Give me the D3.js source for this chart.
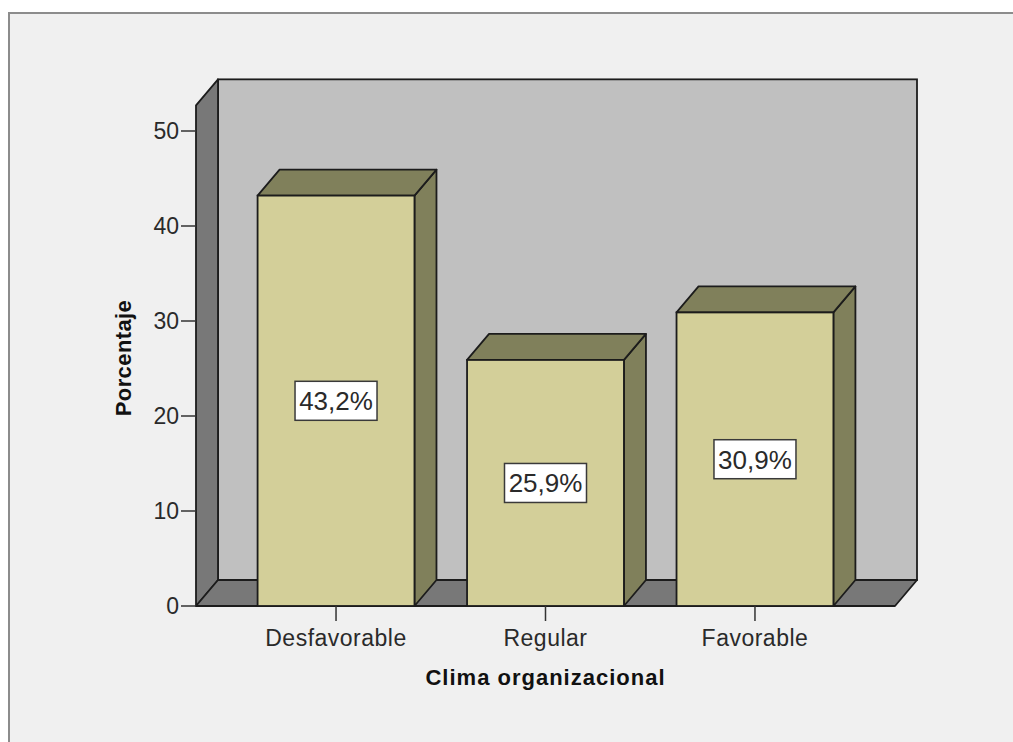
<!DOCTYPE html>
<html>
<head>
<meta charset="utf-8">
<script src="https://cdn.jsdelivr.net/npm/d3@7"></script>
<style>
  html, body { margin: 0; padding: 0; background: #ffffff; }
  svg { display: block; }
</style>
</head>
<body>
<script>
// Clima organizacional – distribution (percent) as 3D bars
const categories = ["Desfavorable", "Regular", "Favorable"];
const percentages = [43.2, 25.9, 30.9];
const valueLabels = ["43,2%", "25,9%", "30,9%"];
const yTicks = [0, 10, 20, 30, 40, 50];
const yAxisTitle = "Porcentaje";
const xAxisTitle = "Clima organizacional";

const W = 1013, H = 742;
const FONT = "Arial, 'Liberation Sans', sans-serif";

// plot geometry
const x0 = 196, x1 = 895;      // front edge of the floor
const yBase = 606;             // front baseline
const pxPerUnit = 9.5;
const yTop = 52.7;             // value at the top of the walls
const depthX = 22, depthY = 26; // oblique depth offset

const svg = d3.select("body").append("svg")
  .attr("width", W).attr("height", H);

// outer panel
svg.append("rect").attr("x", 9).attr("y", 13).attr("width", W).attr("height", H)
  .attr("fill", "#f0f0f0");
svg.append("path").attr("d", `M9,${H} L9,13 L${W},13`)
  .attr("fill", "none").attr("stroke", "#8c8c8c").attr("stroke-width", 2);

const y = d3.scaleLinear().domain([0, yTop]).range([yBase, yBase - yTop * pxPerUnit]);
const x = d3.scaleBand().domain(categories).range([x0, x1])
  .paddingInner(0.251).paddingOuter(0.294);

const stroke = "#1c1c1c", sw = 1.8;
const yT = y(yTop);

// back wall
svg.append("rect")
  .attr("x", x0 + depthX).attr("y", yT - depthY)
  .attr("width", x1 - x0).attr("height", yBase - yT)
  .attr("fill", "#c0c0c0").attr("stroke", stroke).attr("stroke-width", sw);

// left wall
svg.append("path")
  .attr("d", `M${x0},${yBase} L${x0},${yT} L${x0 + depthX},${yT - depthY} L${x0 + depthX},${yBase - depthY} Z`)
  .attr("fill", "#787878").attr("stroke", stroke).attr("stroke-width", sw).attr("stroke-linejoin", "round");

// floor
svg.append("path")
  .attr("d", `M${x0},${yBase} L${x1},${yBase} L${x1 + depthX},${yBase - depthY} L${x0 + depthX},${yBase - depthY} Z`)
  .attr("fill", "#787878").attr("stroke", stroke).attr("stroke-width", sw).attr("stroke-linejoin", "round");

// y axis ticks and labels
const yAxis = svg.append("g");
yAxis.selectAll("line").data(yTicks).join("line")
  .attr("x1", x0 - 15).attr("x2", x0)
  .attr("y1", d => y(d)).attr("y2", d => y(d))
  .attr("stroke", "#333").attr("stroke-width", 1.5);
yAxis.selectAll("text").data(yTicks).join("text")
  .attr("x", x0 - 17).attr("y", d => y(d))
  .attr("dy", "0.36em")
  .attr("text-anchor", "end")
  .attr("font-family", FONT).attr("font-size", 23)
  .attr("fill", "#2a2a2a")
  .text(d => d);

// bars
const bars = svg.append("g").selectAll("g").data(categories).join("g");
const bw = x.bandwidth();
bars.each(function (c, i) {
  const g = d3.select(this);
  const bx = x(c), top = y(percentages[i]);
  // right side face
  g.append("path")
    .attr("d", `M${bx + bw},${yBase} L${bx + bw},${top} L${bx + bw + depthX},${top - depthY} L${bx + bw + depthX},${yBase - depthY} Z`)
    .attr("fill", "#80805b").attr("stroke", stroke).attr("stroke-width", sw).attr("stroke-linejoin", "round");
  // top face
  g.append("path")
    .attr("d", `M${bx},${top} L${bx + depthX},${top - depthY} L${bx + bw + depthX},${top - depthY} L${bx + bw},${top} Z`)
    .attr("fill", "#80805b").attr("stroke", stroke).attr("stroke-width", sw).attr("stroke-linejoin", "round");
  // front face
  g.append("rect")
    .attr("x", bx).attr("y", top).attr("width", bw).attr("height", yBase - top)
    .attr("fill", "#d3cf99").attr("stroke", stroke).attr("stroke-width", sw);
});

// value labels (boxed, centred on each bar)
bars.each(function (c, i) {
  const g = d3.select(this);
  const cx = x(c) + bw / 2;
  const cy = (y(0) + y(percentages[i])) / 2;
  g.append("rect")
    .attr("x", cx - 41).attr("y", cy - 19.5).attr("width", 82).attr("height", 39)
    .attr("fill", "#ffffff").attr("stroke", "#3a3a3a").attr("stroke-width", 1.5);
  g.append("text")
    .attr("x", cx).attr("y", cy).attr("dy", "0.36em")
    .attr("text-anchor", "middle")
    .attr("font-family", FONT).attr("font-size", 26)
    .attr("fill", "#2a2a2a")
    .text(valueLabels[i]);
});

// x axis ticks and category labels
const xAxis = svg.append("g");
xAxis.selectAll("line").data(categories).join("line")
  .attr("x1", d => x(d) + bw / 2).attr("x2", d => x(d) + bw / 2)
  .attr("y1", yBase).attr("y2", yBase + 15)
  .attr("stroke", "#333").attr("stroke-width", 1.5);
xAxis.selectAll("text").data(categories).join("text")
  .attr("x", d => x(d) + bw / 2).attr("y", 646)
  .attr("text-anchor", "middle")
  .attr("font-family", FONT).attr("font-size", 23)
  .attr("letter-spacing", 0.5)
  .attr("fill", "#2a2a2a")
  .text(d => d);

// axis titles
svg.append("text")
  .attr("x", (x0 + x1) / 2).attr("y", 685)
  .attr("text-anchor", "middle")
  .attr("font-family", FONT).attr("font-size", 22).attr("font-weight", "bold")
  .attr("letter-spacing", 1)
  .attr("fill", "#111")
  .text(xAxisTitle);

svg.append("text")
  .attr("transform", `translate(131,358) rotate(-90)`)
  .attr("text-anchor", "middle")
  .attr("font-family", FONT).attr("font-size", 22).attr("font-weight", "bold")
  .attr("letter-spacing", 0.4)
  .attr("fill", "#111")
  .text(yAxisTitle);
</script>
</body>
</html>
